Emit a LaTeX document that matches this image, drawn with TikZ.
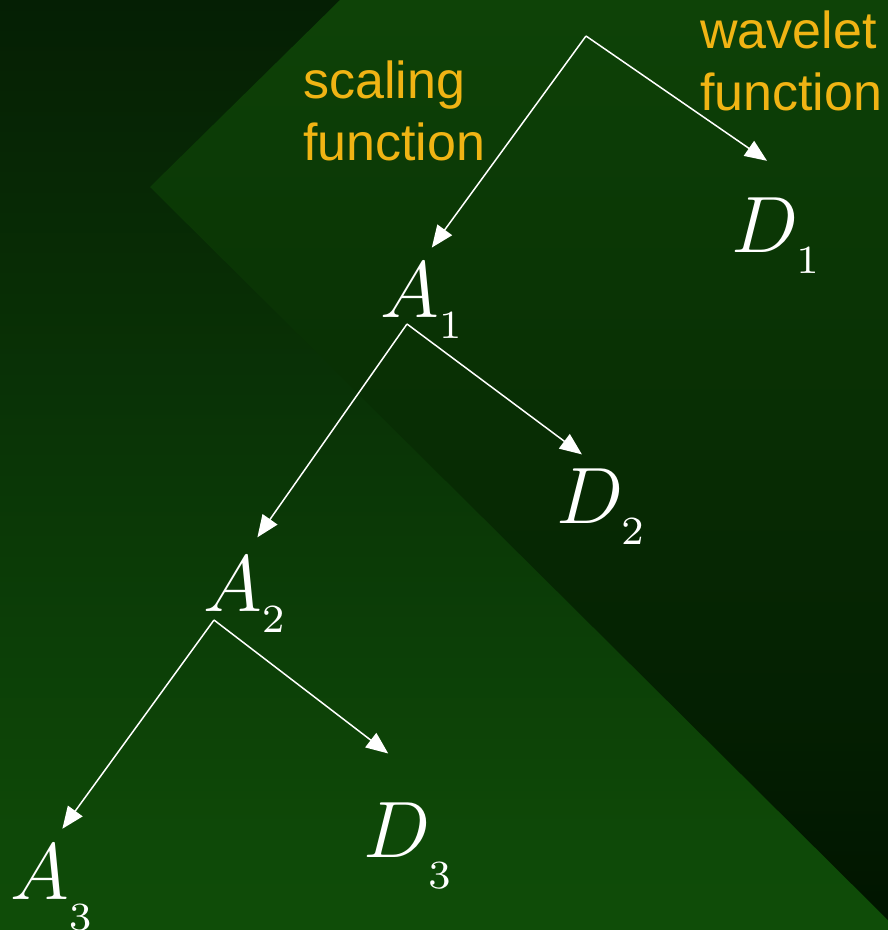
\RequirePackage{fix-cm}
\documentclass[tikz,border=0pt]{standalone}
\usepackage{fontspec}
\newfontfamily\labelfont{Liberation Sans}
\usetikzlibrary{arrows.meta}

\definecolor{bgtop}{HTML}{051F04}
\definecolor{bgbot}{HTML}{0F4D08}
\definecolor{wedgetop}{HTML}{0E4307}
\definecolor{wedgebot}{HTML}{011500}
\definecolor{labelorange}{HTML}{F0B414}

\font\subdigits=cmr7 at 40pt
\newcommand{\coef}[3][9pt]{$#2_{\raisebox{-#1}{\subdigits #3}}$}

\tikzset{
  coef/.style={text=white, inner sep=0pt, anchor=base west,
    font=\fontsize{80}{90}\selectfont},
  caption/.style={text=labelorange, inner sep=0pt, align=left, anchor=base west,
    font=\labelfont\fontsize{52}{62}\selectfont},
  split/.style={draw=white, line width=1.5pt, -{Triangle[length=22pt,width=18pt]}}
}

\begin{document}
\begin{tikzpicture}[x=1pt, y=-1pt]
    \useasboundingbox (0,0) rectangle (888,930);
    % Fundo
    \shade[top color=bgtop, bottom color=bgbot] (0,0) rectangle (888,930);
    \shade[top color=wedgetop, bottom color=wedgebot]
        (340,0) -- (888,0) -- (888,920) -- (150,187) -- cycle;
    % Textos
    \node[caption] (scal) at (303,160) {scaling\\function};
    \node[caption] (wave) at (700,110) {wavelet\\function};
    % Coeficientes
    \node[coef] (A1) at (380,317) {\coef{A}{1}};
    \node[coef] (D1) at (731,252) {\coef{D}{1}};
    \node[coef] (A2) at (203,611) {\coef{A}{2}};
    \node[coef] (D2) at (556,523) {\coef{D}{2}};
    \node[coef] (A3) at (10,899) {\coef[19pt]{A}{3}};
    \node[coef] (D3) at (363,857) {\coef[19pt]{D}{3}};
    % Ramos
    \coordinate (b0) at (586,36);
    \coordinate (b1) at (407,324);
    \coordinate (b2) at (214,620);
    \draw[split, shorten >=18pt] (b0) -- (A1.north);
    \draw[split, shorten >=64pt] (b0) -- (D1.north east);
    \draw[split, shorten >=23pt] (b1) -- (A2.north);
    \draw[split, shorten >=23pt] (b1) -- (D2.north);
    \draw[split, shorten >=19pt] (b2) -- (A3.north);
    \draw[split, shorten >=80pt] (b2) -- (D3.north east);
\end{tikzpicture}
\end{document}
